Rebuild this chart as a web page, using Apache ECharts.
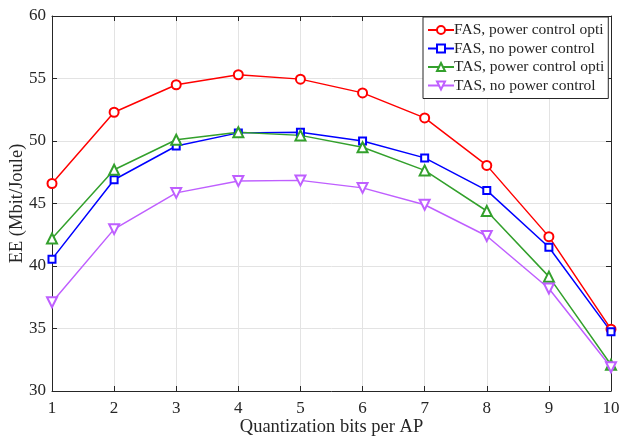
<!DOCTYPE html>
<html>
<head>
<meta charset="utf-8">
<script src="https://cdn.jsdelivr.net/npm/echarts@6/dist/echarts.min.js"></script>
<style>
  html, body { margin: 0; padding: 0; background: #fff; }
  #chart { width: 622px; height: 437px; }
</style>
</head>
<body>
<div id="chart"></div>
<script>
// Quantization bits per AP
const bits = [1, 2, 3, 4, 5, 6, 7, 8, 9, 10];

// Energy efficiency (Mbit/Joule) per scheme
const fasPowerOpt = [46.6, 52.3, 54.5, 55.3, 54.95, 53.85, 51.85, 48.05, 42.35, 34.95];
const fasNoPower  = [40.55, 46.9, 49.6, 50.65, 50.7, 50.0, 48.65, 46.05, 41.5, 34.75];
const tasPowerOpt = [42.2, 47.7, 50.1, 50.7, 50.45, 49.5, 47.65, 44.4, 39.15, 32.1];
const tasNoPower  = [37.1, 42.95, 45.85, 46.8, 46.85, 46.25, 44.9, 42.4, 38.2, 31.9];

const seriesNames = [
  'FAS, power control opti',
  'FAS, no power control',
  'TAS, power control opti',
  'TAS, no power control'
];

const font = '"Liberation Serif", "Times New Roman", serif';

function pairs(vals) {
  return bits.map((b, i) => [b, vals[i]]);
}

function lineSeries(name, vals, color, symbol, size, rotate) {
  return {
    name: name,
    type: 'line',
    data: pairs(vals),
    symbol: symbol,
    symbolSize: size,
    symbolRotate: rotate || 0,
    showAllSymbol: true,
    lineStyle: { color: color, width: 1.5 },
    itemStyle: { color: color, borderColor: color, borderWidth: 1.5 },
    emphasis: { disabled: true },
    z: 3
  };
}

const chart = echarts.init(document.getElementById('chart'), null, { renderer: 'canvas' });

const tickLabel = { fontFamily: font, fontSize: 17, color: '#262626' };

chart.setOption({
  animation: false,
  backgroundColor: '#fff',
  grid: { left: 52, right: 11, top: 16, bottom: 46, containLabel: false, outerBoundsMode: 'none' },
  legend: {
    left: 423,
    top: 17,
    orient: 'vertical',
    backgroundColor: '#fff',
    borderColor: '#262626',
    borderWidth: 1,
    borderRadius: 0,
    padding: [5, 4, 5, 4],
    itemGap: 2.5,
    itemWidth: 26,
    itemHeight: 10,
    textStyle: { fontFamily: font, fontSize: 15.5, color: '#262626', padding: [0, 0, 0, -5] },
    data: seriesNames
  },
  xAxis: [
    {
      type: 'value', min: 1, max: 10, interval: 1,
      name: 'Quantization bits per AP',
      nameLocation: 'middle', nameGap: 27, nameMoveOverlap: false,
      nameTextStyle: { fontFamily: font, fontSize: 18.5, color: '#262626' },
      axisLine: { onZero: false, lineStyle: { color: '#262626', width: 1 } },
      axisTick: { inside: true, length: 5, lineStyle: { color: '#262626' } },
      axisLabel: Object.assign({ margin: 9 }, tickLabel),
      splitLine: { show: true, lineStyle: { color: '#e3e3e3', width: 1 } }
    },
    {
      type: 'value', min: 1, max: 10, interval: 1, position: 'top',
      axisLine: { onZero: false, lineStyle: { color: '#262626', width: 1 } },
      axisTick: { inside: true, length: 5, lineStyle: { color: '#262626' } },
      axisLabel: { show: false },
      splitLine: { show: false }
    }
  ],
  yAxis: [
    {
      type: 'value', min: 30, max: 60, interval: 5,
      name: 'EE (Mbit/Joule)',
      nameLocation: 'middle', nameGap: 25, nameRotate: 90, nameMoveOverlap: false,
      nameTextStyle: { fontFamily: font, fontSize: 18.5, color: '#262626' },
      axisLine: { show: true, onZero: false, lineStyle: { color: '#262626', width: 1 } },
      axisTick: { show: true, inside: true, length: 5, lineStyle: { color: '#262626' } },
      axisLabel: Object.assign({ margin: 6 }, tickLabel),
      splitLine: { show: true, lineStyle: { color: '#e3e3e3', width: 1 } }
    },
    {
      type: 'value', min: 30, max: 60, interval: 5, position: 'right',
      axisLine: { show: true, onZero: false, lineStyle: { color: '#262626', width: 1 } },
      axisTick: { show: true, inside: true, length: 5, lineStyle: { color: '#262626' } },
      axisLabel: { show: false },
      splitLine: { show: false }
    }
  ],
  series: [
    lineSeries(seriesNames[0], fasPowerOpt, '#ff0000', 'emptyCircle', 9),
    lineSeries(seriesNames[1], fasNoPower, '#0000ff', 'emptyRect', 7),
    lineSeries(seriesNames[2], tasPowerOpt, '#33a02c', 'emptyTriangle', 10),
    lineSeries(seriesNames[3], tasNoPower, '#bf5fff', 'emptyTriangle', 10, 180)
  ]
});
</script>
</body>
</html>
